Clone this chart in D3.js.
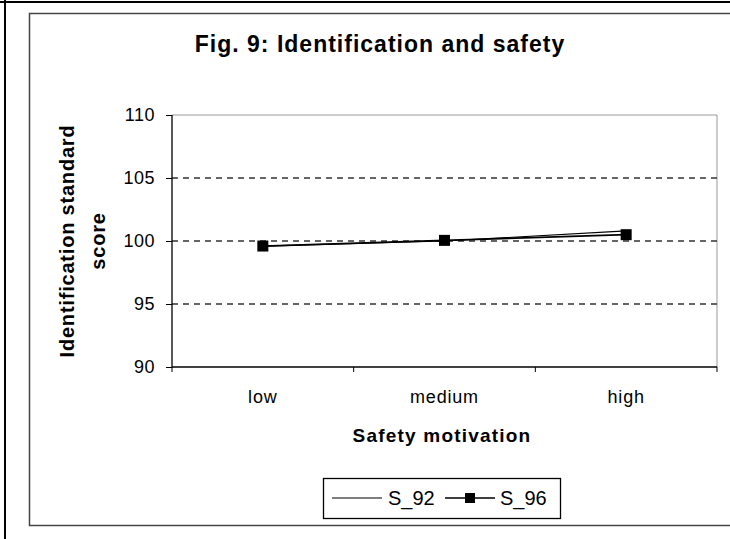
<!DOCTYPE html>
<html><head><meta charset="utf-8">
<script src="https://cdn.jsdelivr.net/npm/d3@7"></script>
<style>
body{margin:0;background:#fff;}
svg{display:block;font-family:"Liberation Sans",Arial,sans-serif;}
</style></head>
<body>
<svg id="c" width="730" height="539"></svg>
<script>
const categories = ["low", "medium", "high"];
const seriesNames = ["S_92", "S_96"];
const s92 = [99.6, 100.0, 100.8];
const s96 = [99.6, 100.05, 100.5];
const yTicks = [90, 95, 100, 105, 110];

const svg = d3.select("#c");
const W = 730, H = 539;
const m = {l:172, r:717, t:115, b:367};

svg.append("rect").attr("x",0).attr("y",0).attr("width",W).attr("height",H).attr("fill","#fff");
svg.append("line").attr("x1",5).attr("x2",5).attr("y1",0).attr("y2",H).attr("stroke","#000").attr("stroke-width",2);
svg.append("line").attr("x1",0).attr("x2",W).attr("y1",2).attr("y2",2).attr("stroke","#000").attr("stroke-width",2);
svg.append("path").attr("d",`M${W+5},13.5H29.5V525.5H${W+5}`).attr("fill","none").attr("stroke","#444").attr("stroke-width",1.5);

const x = d3.scaleBand().domain(categories).range([m.l, m.r]).paddingInner(0).paddingOuter(0);
const y = d3.scaleLinear().domain([90,110]).range([m.b, m.t]);
const xc = d => x(d) + x.bandwidth()/2;

svg.append("path").attr("d",`M${m.l},${m.t}H${m.r}V${m.b}`).attr("fill","none").attr("stroke","#999").attr("stroke-width",1);

svg.append("g").selectAll("line").data(yTicks.filter(t=>t>90 && t<110)).join("line")
  .attr("x1",m.l).attr("x2",m.r).attr("y1",d=>y(d)).attr("y2",d=>y(d))
  .attr("stroke","#333").attr("stroke-width",1.5).attr("stroke-dasharray","6,5");

const ya = d3.axisLeft(y).tickValues(yTicks).tickSize(6).tickPadding(11);
const gy = svg.append("g").attr("transform",`translate(${m.l},0)`).call(ya);
gy.select(".domain").attr("stroke","#000").attr("stroke-width",1.3).attr("d",`M0,${m.t}V${m.b}`);
gy.selectAll(".tick line").attr("stroke","#000");
gy.selectAll("text").attr("font-size",18).attr("letter-spacing",0.5).attr("fill","#000")
  .attr("font-family","Liberation Sans, Arial, sans-serif");

const gx = svg.append("g").attr("transform",`translate(0,${m.b})`);
gx.append("line").attr("x1",m.l).attr("x2",m.r).attr("stroke","#000").attr("stroke-width",1.3);
const bounds = categories.map(c=>x(c)).concat([m.r]);
gx.selectAll(".tk").data(bounds).join("line").attr("class","tk")
  .attr("x1",d=>d).attr("x2",d=>d).attr("y1",0).attr("y2",5).attr("stroke","#000");
gx.selectAll(".lb").data(categories).join("text").attr("class","lb")
  .attr("x",d=>xc(d)).attr("y",36).attr("text-anchor","middle")
  .attr("font-size",18).attr("letter-spacing",0.8).text(d=>d);

svg.append("text").attr("x",380).attr("y",52).attr("text-anchor","middle")
  .attr("font-size",23).attr("font-weight","bold").attr("letter-spacing",1).text("Fig. 9: Identification and safety");
svg.append("text").attr("x",442).attr("y",442).attr("text-anchor","middle")
  .attr("font-size",19).attr("font-weight","bold").attr("letter-spacing",1.2).text("Safety motivation");
const yl = svg.append("text").attr("transform",`translate(0,${(m.t+m.b)/2}) rotate(-90)`)
  .attr("text-anchor","middle").attr("font-size",20).attr("font-weight","bold").attr("letter-spacing",0.8);
yl.append("tspan").attr("x",0).attr("y",74).text("Identification standard");
yl.append("tspan").attr("x",0).attr("y",105).text("score");

const line = d3.line().x((d,i)=>xc(categories[i])).y(d=>y(d));
svg.append("path").datum(s92).attr("d",line).attr("fill","none").attr("stroke","#000").attr("stroke-width",1.2);
svg.append("path").datum(s96).attr("d",line).attr("fill","none").attr("stroke","#000").attr("stroke-width",1.8);
svg.append("g").selectAll("rect").data(s96).join("rect")
  .attr("x",(d,i)=>xc(categories[i])-5.5).attr("y",d=>y(d)-5.5).attr("width",11).attr("height",11).attr("fill","#000");

const lg = svg.append("g");
lg.append("rect").attr("x",323.5).attr("y",478.5).attr("width",237).attr("height",40).attr("fill","#fff").attr("stroke","#000").attr("stroke-width",1.3);
lg.append("line").attr("x1",332).attr("x2",382).attr("y1",498).attr("y2",498).attr("stroke","#000").attr("stroke-width",1.2);
lg.append("text").attr("x",388).attr("y",505).attr("font-size",20).text(seriesNames[0]);
lg.append("line").attr("x1",445).attr("x2",495).attr("y1",498).attr("y2",498).attr("stroke","#000").attr("stroke-width",1.5);
lg.append("rect").attr("x",465).attr("y",493).attr("width",10).attr("height",10).attr("fill","#000");
lg.append("text").attr("x",500).attr("y",505).attr("font-size",20).text(seriesNames[1]);
</script>
</body></html>
